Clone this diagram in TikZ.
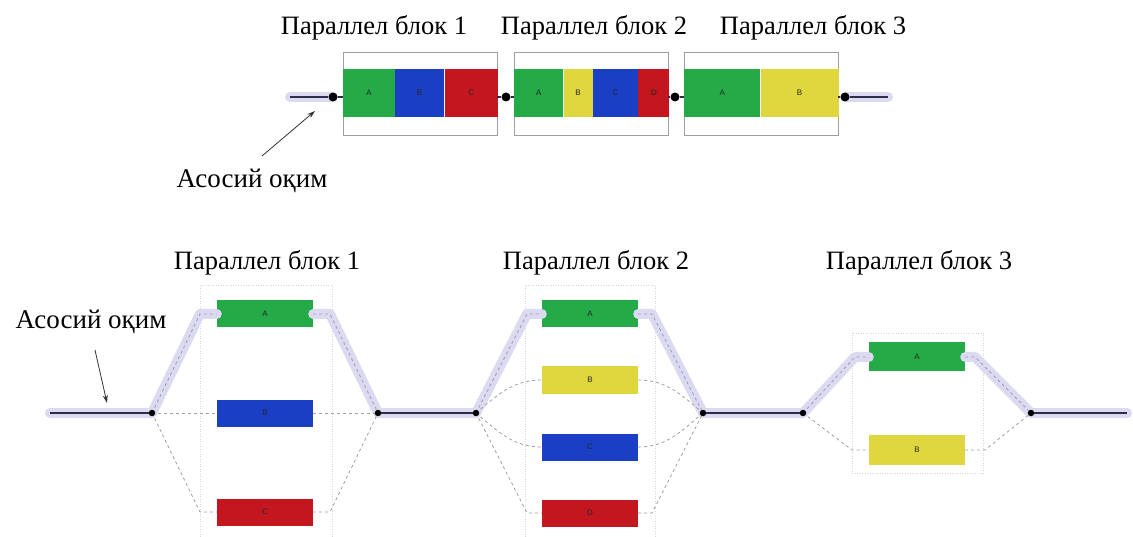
\documentclass[tikz,border=0pt]{standalone}
\usepackage{fontspec}
\setmainfont{Liberation Serif}
\newfontfamily\lblfont{Liberation Sans}
\usetikzlibrary{arrows.meta}
\definecolor{cgreen}{RGB}{36,170,70}
\definecolor{cblue}{RGB}{26,62,196}
\definecolor{cred}{RGB}{196,22,30}
\definecolor{cyellow}{RGB}{224,214,62}
\definecolor{cglow}{RGB}{220,218,242}
\definecolor{cline}{RGB}{45,45,75}
\definecolor{cframe}{RGB}{215,215,225}
\begin{document}
\begin{tikzpicture}[x=1pt,y=-1pt,
  title/.style={font=\fontsize{26.5}{30}\selectfont, inner sep=0pt},
  seg/.style={fill=#1, draw=none, minimum height=48pt, inner sep=0pt, anchor=west,
    font=\lblfont\fontsize{8}{9}\selectfont, text=black!85},
  outerbox/.style={draw=gray!75, line width=0.9pt, fill=white, minimum width=154pt, minimum height=83pt, inner sep=0pt},
  blk/.style={fill=#1, draw=none, minimum width=96pt, minimum height=27pt, inner sep=0pt,
    font=\lblfont\fontsize{8}{9}\selectfont, text=black!85},
  bigdot/.style={circle, fill=black, inner sep=0pt, minimum size=9pt},
  smalldot/.style={circle, fill=black, inner sep=0pt, minimum size=6.5pt},
  glow/.style={draw=cglow, line width=10pt, line cap=round, line join=round},
  mainline/.style={draw=cline, line width=1.2pt},
  alt/.style={draw=gray!75, line width=0.8pt, dash pattern=on 3pt off 3pt},
  frame/.style={draw=cframe, line width=0.6pt, dash pattern=on 1pt off 1.5pt},
  pointer/.style={draw=black!80, line width=0.8pt, -{Stealth[length=8pt,width=5pt]}},
  caption/.style={font=\fontsize{27}{30}\selectfont, inner sep=0pt}
]
\useasboundingbox (0,0) rectangle (1133,537);

% ================= TOP ROW =================
\node[title] (tt1) at (374,28) {Параллел блок 1};
\node[title] (tt2) at (594,28) {Параллел блок 2};
\node[title] (tt3) at (813,28) {Параллел блок 3};

\coordinate (tstart) at (290,97);
\coordinate (tend) at (888,97);
\draw[glow] (tstart) -- (333,97);
\draw[glow] (845,97) -- (tend);

\node[outerbox] (tb1) at (420,93.5) {};
\node[outerbox] (tb2) at (591,93.5) {};
\node[outerbox] (tb3) at (761,93.5) {};

\node[seg=cgreen, minimum width=51.5pt] (t1a) at (343,93) {A};
\node[seg=cblue, minimum width=49pt] (t1b) at (t1a.east) {B};
\node[seg=cred, minimum width=53.5pt] (t1c) at (t1b.east) {C};

\node[seg=cgreen, minimum width=49pt] (t2a) at (514,93) {A};
\node[seg=cyellow, minimum width=29pt] (t2b) at (t2a.east) {B};
\node[seg=cblue, minimum width=45pt] (t2c) at (t2b.east) {C};
\node[seg=cred, minimum width=31pt] (t2d) at (t2c.east) {D};

\node[seg=cgreen, minimum width=76pt] (t3a) at (684,93) {A};
\node[seg=cyellow, minimum width=78pt] (t3b) at (t3a.east) {B};

\node[bigdot] (T0) at (333,97) {};
\node[bigdot] (T1) at (506,97) {};
\node[bigdot] (T2) at (675,97) {};
\node[bigdot] (T3) at (845,97) {};

\draw[mainline] (tstart) -- (T0);
\draw[mainline] (T0) -- (tb1.west |- T0);
\draw[mainline] (tb1.east |- T1) -- (T1) -- (tb2.west |- T1);
\draw[mainline] (tb2.east |- T2) -- (T2) -- (tb3.west |- T2);
\draw[mainline] (tb3.east |- T3) -- (T3) -- (tend);

\node[caption] (tlabel) at (252,181) {Асосий оқим};
\coordinate (tarrowtail) at (262,156);
\coordinate (tarrowhead) at (315,111);
\draw[pointer] (tarrowtail) -- (tarrowhead);

% ================= BOTTOM ROW =================
\node[title] (bt1) at (267,263) {Параллел блок 1};
\node[title] (bt2) at (596,263) {Параллел блок 2};
\node[title] (bt3) at (919,263) {Параллел блок 3};

% frames
\draw[frame] (200,537) -- (200,285) -- (332,285) -- (332,537);
\draw[frame] (525,537) -- (525,285) -- (655,285) -- (655,537);
\draw[frame] (852,333) rectangle (983,473);

\coordinate (bstart) at (50,413);
\coordinate (bend) at (1127,413);
\coordinate (L1) at (152,413);
\coordinate (R1) at (378,413);
\coordinate (L2) at (476,413);
\coordinate (R2) at (703,413);
\coordinate (L3) at (803,413);
\coordinate (R3) at (1031,413);

% block boxes
\node[blk=cgreen] (b1a) at (265,314) {A};
\node[blk=cblue] (b1b) at (265,413) {B};
\node[blk=cred] (b1c) at (265,512) {C};

\node[blk=cgreen] (b2a) at (590,314) {A};
\node[blk=cyellow] (b2b) at (590,380) {B};
\node[blk=cblue] (b2c) at (590,447) {C};
\node[blk=cred] (b2d) at (590,513) {D};

\node[blk=cgreen, minimum height=29pt] (b3a) at (917,357) {A};
\node[blk=cyellow, minimum height=30pt] (b3b) at (917,450) {B};

% glow along the main path
\draw[glow] (bstart) -- (L1) -- (200,314) -- (b1a.west);
\draw[glow] (b1a.east) -- (330,314) -- (R1) -- (L2) -- (527,314) -- (b2a.west);
\draw[glow] (b2a.east) -- (652,314) -- (R2) -- (L3) -- (855,357) -- (b3a.west);
\draw[glow] (b3a.east) -- (975,357) -- (R3) -- (bend);

% main line segments
\draw[mainline] (bstart) -- (L1);
\draw[mainline] (R1) -- (L2);
\draw[mainline] (R2) -- (L3);
\draw[mainline] (R3) -- (bend);

% block 1 branches
\draw[alt] (L1) -- (200,314) -- (b1a.west);
\draw[alt] (b1a.east) -- (330,314) -- (R1);
\draw[alt] (L1) -- (b1b.west);
\draw[alt] (b1b.east) -- (R1);
\draw[alt] (L1) -- (200,512) -- (b1c.west);
\draw[alt] (b1c.east) -- (330,512) -- (R1);

% block 2 branches
\draw[alt] (L2) -- (527,314) -- (b2a.west);
\draw[alt] (b2a.east) -- (652,314) -- (R2);
\draw[alt] (L2) to[out=40,in=180] (b2b.west);
\draw[alt] (b2b.east) to[out=0,in=140] (R2);
\draw[alt] (L2) to[out=-40,in=180] (b2c.west);
\draw[alt] (b2c.east) to[out=0,in=-140] (R2);
\draw[alt] (L2) -- (527,513) -- (b2d.west);
\draw[alt] (b2d.east) -- (652,513) -- (R2);

% block 3 branches
\draw[alt] (L3) -- (855,357) -- (b3a.west);
\draw[alt] (b3a.east) -- (975,357) -- (R3);
\draw[alt] (L3) -- (852,450) -- (b3b.west);
\draw[alt] (b3b.east) -- (985,450) -- (R3);

% dots
\node[smalldot] (dL1) at (L1) {};
\node[smalldot] (dR1) at (R1) {};
\node[smalldot] (dL2) at (L2) {};
\node[smalldot] (dR2) at (R2) {};
\node[smalldot] (dL3) at (L3) {};
\node[smalldot] (dR3) at (R3) {};

\node[caption] (blabel) at (91,322) {Асосий оқим};
\coordinate (barrowtail) at (95,350);
\coordinate (barrowhead) at (107,403);
\draw[pointer] (barrowtail) -- (barrowhead);
\end{tikzpicture}
\end{document}
